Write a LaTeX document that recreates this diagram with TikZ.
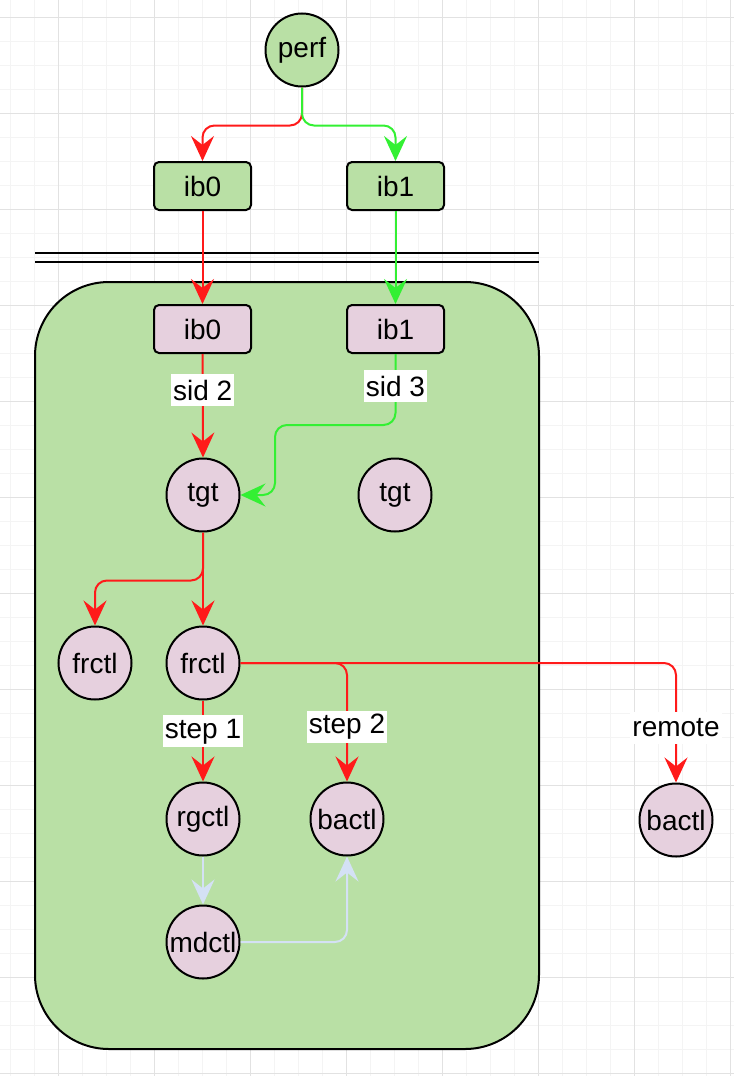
\documentclass[tikz,border=0pt]{standalone}
\usepackage{fontspec}
\setmainfont{Liberation Sans}
\usetikzlibrary{arrows.meta}

\definecolor{boxgreen}{HTML}{B9E0A5}
\definecolor{nodepink}{HTML}{E6D0DE}
\definecolor{pathred}{HTML}{FF1A1A}
\definecolor{pathgreen}{HTML}{33F033}
\definecolor{pathblue}{HTML}{D4E1F5}
\definecolor{gridminor}{HTML}{F4F4F4}
\definecolor{gridmajor}{HTML}{E2E2E2}

\tikzset{
    txt/.style={font=\fontsize{28}{32}\selectfont},
    ctl/.style={txt, circle, draw=black, line width=2pt, fill=nodepink,
        minimum size=73pt, inner sep=0pt},
    port/.style={txt, rectangle, rounded corners=5pt, draw=black, line width=2pt,
        fill=nodepink, minimum width=97pt, minimum height=48pt, inner sep=0pt},
    link/.style={line width=2pt,
        -{Stealth[length=25pt,width=23pt,inset=9pt]}},
    lbl/.style={txt, sharp corners, text=black, fill=white, inner sep=2pt, minimum height=32pt}
}

\begin{document}
\begin{tikzpicture}[x=1pt, y=-1pt]
        \useasboundingbox (0,0) rectangle (734,1076);
        % Draw grid
        \foreach \x in {10.5,34.5,...,734} \draw[gridminor, line width=1pt] (\x,0) -- (\x,1076);
        \foreach \y in {17,41,...,1076} \draw[gridminor, line width=1pt] (0,\y) -- (734,\y);
        \foreach \x in {58.5,154.5,...,734} \draw[gridmajor, line width=1pt] (\x,0) -- (\x,1076);
        \foreach \y in {17,113,...,1076} \draw[gridmajor, line width=1pt] (0,\y) -- (734,\y);

        % Draw host side
        \node[ctl, fill=boxgreen] (perf) at (302,50) {perf};
        \node[port, fill=boxgreen] (ib0h) at (202.5,186) {ib0};
        \node[port, fill=boxgreen] (ib1h) at (395.5,186) {ib1};
        \draw[line width=2pt] (35,253) -- (539,253);
        \draw[line width=2pt] (35,262) -- (539,262);

        % Draw target box
        \draw[line width=2pt, fill=boxgreen, rounded corners=74pt] (35,282) rectangle (539,1049);
        \node[port] (ib0t) at (202.5,329) {ib0};
        \node[port] (ib1t) at (395.5,329) {ib1};
        \node[ctl] (tgt0) at (203,495) {tgt};
        \node[ctl] (tgt1) at (395,495) {tgt};
        \node[ctl] (frctl0) at (95,663) {frctl};
        \node[ctl] (frctl1) at (203,663) {frctl};
        \node[ctl] (rgctl) at (203,819) {rgctl};
        \node[ctl] (bactl0) at (347,819) {bactl};
        \node[ctl] (mdctl) at (203,942) {mdctl};
        \node[ctl] (bactl1) at (676,820) {bactl};

        % Draw paths (corners rounded on the path, tips kept sharp)
        \draw[link, pathred] (perf.south) [rounded corners=12pt] -- ++(0,38) -| (ib0h.north) [sharp corners];
        \draw[link, pathgreen] (perf.south) [rounded corners=12pt] -- ++(0,38) -| (ib1h.north) [sharp corners];
        \draw[link, pathred] (ib0h.south) -- (ib0t.north);
        \draw[link, pathgreen] (ib1h.south) -- (ib1t.north);
        \draw[link, pathred] (ib0t.south) -- node[lbl, pos=0.35] (sid2) {sid 2} (tgt0.north);
        \draw[link, pathgreen] (ib1t.south) [rounded corners=12pt] |- (275,425) |- (tgt0.east) [sharp corners];
        \node[lbl] (sid3) at (395.5,386) {sid 3};
        \draw[link, pathred] (tgt0.south) [rounded corners=12pt] -- ++(0,48) -| (frctl0.north) [sharp corners];
        \draw[link, pathred] (tgt0.south) -- (frctl1.north);
        \draw[link, pathred] (frctl1.south) -- node[lbl, pos=0.38] (step1) {step 1} (rgctl.north);
        \draw[link, pathred] (frctl1.east) [rounded corners=12pt] -| node[lbl, pos=0.77] (step2) {step 2} (bactl0.north) [sharp corners];
        \draw[link, pathred] (frctl1.east) [rounded corners=12pt] -| node[lbl, pos=0.77] (remote) {remote} (bactl1.north) [sharp corners];
        \draw[link, pathblue] (rgctl.south) -- (mdctl.north);
        \draw[link, pathblue] (mdctl.east) [rounded corners=12pt] -| (bactl0.south) [sharp corners];
    \end{tikzpicture}
\end{document}
